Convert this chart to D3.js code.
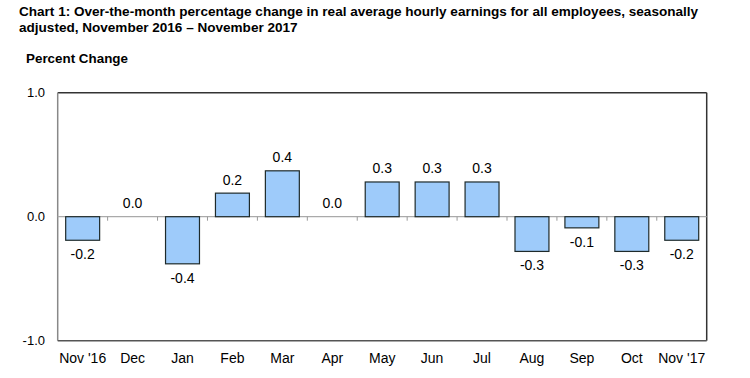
<!DOCTYPE html>
<html>
<head>
<meta charset="utf-8">
<script src="https://cdn.jsdelivr.net/npm/d3@7"></script>
<style>
  html, body { margin: 0; padding: 0; background: #fff; }
  svg { display: block; font-family: "Liberation Sans", Arial, sans-serif; }
</style>
</head>
<body>
<svg id="chart" width="750" height="378"></svg>
<script>
const categories = ["Nov '16", "Dec", "Jan", "Feb", "Mar", "Apr", "May", "Jun", "Jul", "Aug", "Sep", "Oct", "Nov '17"];
const values = [-0.19, 0.0, -0.38, 0.19, 0.37, 0.0, 0.28, 0.28, 0.28, -0.28, -0.09, -0.28, -0.19];
const valueLabels = ["-0.2", "0.0", "-0.4", "0.2", "0.4", "0.0", "0.3", "0.3", "0.3", "-0.3", "-0.1", "-0.3", "-0.2"];
const yTicks = [1.0, 0.0, -1.0];
const yTickLabels = ["1.0", "0.0", "-1.0"];
const titleLines = [
  "Chart 1: Over-the-month percentage change in real average hourly earnings for all employees, seasonally",
  "adjusted, November 2016 \u2013 November 2017"
];
const yAxisTitle = "Percent Change";

const svg = d3.select("#chart");
const mLeft = 57.7, mRight = 706.7, mTop = 92.7, mBottom = 340.7;

const x = d3.scaleBand().domain(categories).range([mLeft, mRight]).paddingInner(0.32).paddingOuter(0.16);
const xb = d3.scaleBand().domain(categories).range([mLeft, mRight]);
const y = d3.scaleLinear().domain([-1, 1]).range([mBottom, mTop]);

// title
svg.append("g").selectAll("text").data(titleLines).join("text")
  .attr("x", 19).attr("y", (d, i) => 16 + i * 15.5)
  .attr("font-size", 13.55).attr("font-weight", "bold").attr("fill", "#000")
  .text(d => d);

svg.append("text").attr("x", 26).attr("y", 62.5)
  .attr("font-size", 13.4).attr("font-weight", "bold").attr("fill", "#000")
  .text(yAxisTitle);

// frame
svg.append("line").attr("x1", mLeft).attr("x2", mRight).attr("y1", mTop).attr("y2", mTop).attr("stroke", "#333").attr("stroke-width", 1.5);
svg.append("line").attr("x1", mRight).attr("x2", mRight).attr("y1", mTop).attr("y2", mBottom).attr("stroke", "#333").attr("stroke-width", 1.5);
svg.append("line").attr("x1", mLeft).attr("x2", mLeft).attr("y1", mTop).attr("y2", mBottom).attr("stroke", "#888").attr("stroke-width", 1.5);
svg.append("line").attr("x1", mLeft).attr("x2", mRight).attr("y1", mBottom).attr("y2", mBottom).attr("stroke", "#555").attr("stroke-width", 1.5);

// y tick labels
svg.append("g").selectAll("text").data(yTicks).join("text")
  .attr("x", 45).attr("y", d => y(d) + 4.5)
  .attr("text-anchor", "end").attr("font-size", 13).attr("fill", "#000")
  .text((d, i) => yTickLabels[i]);

// zero line and ticks
svg.append("line").attr("x1", mLeft).attr("x2", mRight).attr("y1", y(0)).attr("y2", y(0)).attr("stroke", "#aaa").attr("stroke-width", 1.2);
svg.append("g").selectAll("line").data(categories.slice(1)).join("line")
  .attr("x1", d => xb(d)).attr("x2", d => xb(d))
  .attr("y1", y(0)).attr("y2", y(0) + 4)
  .attr("stroke", "#999").attr("stroke-width", 1);

// bars
svg.append("g").selectAll("rect").data(values).join("rect")
  .attr("x", (d, i) => x(categories[i]))
  .attr("width", x.bandwidth())
  .attr("y", d => y(Math.max(0, d)))
  .attr("height", d => Math.abs(y(d) - y(0)))
  .attr("fill", d => d === 0 ? "none" : "#9ecbfa")
  .attr("stroke", d => d === 0 ? "none" : "#1e2a2a")
  .attr("stroke-width", 1.2);

// value labels
svg.append("g").selectAll("text").data(values).join("text")
  .attr("x", (d, i) => x(categories[i]) + x.bandwidth() / 2)
  .attr("y", d => d < 0 ? y(d) + 19 : y(d) - 8.5)
  .attr("text-anchor", "middle").attr("font-size", 14).attr("fill", "#000")
  .text((d, i) => valueLabels[i]);

// x labels
svg.append("g").selectAll("text").data(categories).join("text")
  .attr("x", d => xb(d) + xb.bandwidth() / 2)
  .attr("y", 363)
  .attr("text-anchor", "middle").attr("font-size", 14).attr("fill", "#000")
  .text(d => d);
</script>
</body>
</html>
